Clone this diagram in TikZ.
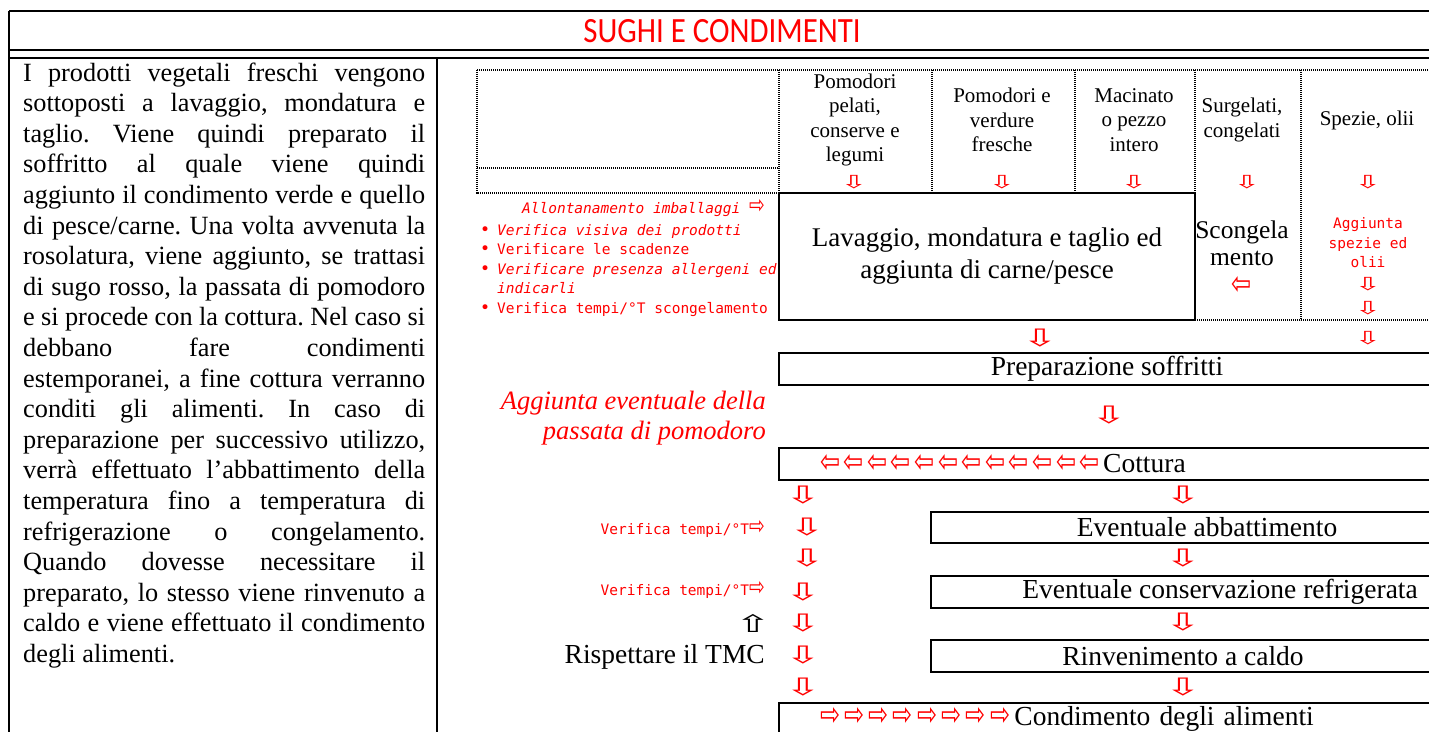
\documentclass[tikz,border=0pt]{standalone}
\usepackage{fontspec}
\setmainfont{Liberation Serif}
\newfontfamily\titolofont[FakeStretch=0.87]{Carlito}
\newfontfamily\notefont{DejaVu Sans Mono}
\newfontfamily\simbolifont{DejaVu Sans}
\newfontfamily\frecciav[FakeStretch=1.8]{DejaVu Sans}
\newfontfamily\frecciao[FakeStretch=0.75]{DejaVu Sans}
\newcommand\frpic[1]{{\frecciao\fontsize{25}{25}\selectfont#1}}
\newcommand\punto{\makebox[17pt][l]{\simbolifont\fontsize{17}{17}\selectfont•}}
\newcommand\fila[3]{\textcolor{red}{\frecciao\fontsize{32}{32}\selectfont\foreach\k in {1,...,#1}{\makebox[#2][l]{#3}}}}
\newcommand\riga[1]{\hbox to 402pt{#1}}

\begin{document}
\begin{tikzpicture}[x=1pt,y=-1pt,
		cornice/.style={line width=2.5pt},
		puntini/.style={line width=2pt,dash pattern=on 1.2pt off 0.8pt},
		casella/.style={draw,line width=2pt,rectangle,inner sep=0pt,minimum height=32pt,font=\fontsize{27.5}{32}\selectfont},
		etichetta/.style={align=center,inner sep=0pt,font=\fontsize{21}{24.4}\selectfont},
		nota/.style={text=red,inner sep=0pt,font=\notefont\fontsize{14.5}{19.5}\selectfont},
		freccia/.style={text=red,inner sep=0pt,font=\frecciav\fontsize{24}{24}\selectfont},
		obliqua/.style={freccia,font=\frecciav\itshape\fontsize{24}{24}\selectfont},
		frecciapic/.style={text=red,inner sep=0pt,font=\frecciav\fontsize{18}{18}\selectfont},
		frecciaorizz/.style={text=red,inner sep=0pt,font=\frecciao\fontsize{32}{32}\selectfont}]
		\useasboundingbox (0,0) rectangle (1429,731);
		% cornice e titolo
		\draw[cornice] (9,11) -- (1440,11) (9,50) -- (1440,50);
		\draw[line width=2pt] (9,58) -- (1440,58);
		\draw[cornice] (9,11) -- (9,740) (437,58) -- (437,740);
		\node[font=\titolofont\fontsize{35.5}{35.5}\selectfont,text=red,inner sep=0pt] (titolo) at (722,31) {SUGHI E CONDIMENTI};
		\node[anchor=base west,inner sep=0pt] (descrizione) at (23,81) {\parbox[t]{402pt}{\fontsize{26.3}{30.6}\selectfont\frenchspacing
				\riga{I prodotti vegetali freschi vengono}
				\riga{sottoposti a lavaggio, mondatura e}
				\riga{taglio. Viene quindi preparato il}
				\riga{soffritto al quale viene quindi}
				\riga{aggiunto il condimento verde e quello}
				\riga{di pesce/carne. Una volta avvenuta la}
				\riga{rosolatura, viene aggiunto, se trattasi}
				\riga{di sugo rosso, la passata di pomodoro}
				\riga{e si procede con la cottura. Nel caso si}
				\riga{debbano fare condimenti}
				\riga{estemporanei, a fine cottura verranno}
				\riga{conditi gli alimenti. In caso di}
				\riga{preparazione per successivo utilizzo,}
				\riga{verrà effettuato l’abbattimento della}
				\riga{temperatura fino a temperatura di}
				\riga{refrigerazione o congelamento.}
				\riga{Quando dovesse necessitare il}
				\riga{preparato, lo stesso viene rinvenuto a}
				\riga{caldo e viene effettuato il condimento}
				\hbox{degli alimenti.}}};
		% tabella delle materie prime
		\draw[puntini] (477,70) -- (1440,70) (477,70) -- (477,193) -- (779,193) (477,168) -- (779,168);
		\draw[puntini] (779,70) -- (779,193) (932,70) -- (932,193) (1075,70) -- (1075,193) (1195,70) -- (1195,193);
		\draw[puntini] (1301,70) -- (1301,320) (1195,320) -- (1440,320);
		\node[etichetta] (pelati) at (855,120) {Pomodori\\pelati,\\conserve e\\legumi};
		\node[etichetta] (fresche) at (1002,120) {Pomodori e\\verdure\\fresche};
		\node[etichetta] (macinato) at (1134,120) {Macinato\\o pezzo\\intero};
		\node[etichetta] (surgelati) at (1242,120) {Surgelati,\\congelati};
		\node[etichetta] (spezie) at (1367,120) {Spezie, olii};
		\node[frecciapic] (g1) at (854,182) {⇩};
		\node[frecciapic] (g2) at (1002,182) {⇩};
		\node[frecciapic] (g3) at (1134,182) {⇩};
		\node[frecciapic] (g4) at (1247,182) {⇩};
		\node[frecciapic] (g5) at (1368,182) {⇩};
		\node[casella,minimum width=416pt,minimum height=127pt,align=center,font=\fontsize{27}{32}\selectfont] (lavaggio) at (987,256.5) {Lavaggio, mondatura e taglio ed\\aggiunta di carne/pesce};
		\node[align=center,inner sep=0pt,font=\fontsize{25.5}{27}\selectfont] (scongela) at (1242,243) {Scongela\\mento};
		\node[frecciaorizz] (s1) at (1242,286) {⇦};
		\node[nota,align=center] (aggspezie) at (1368,243) {Aggiunta\\spezie ed\\olii};
		\node[frecciapic] (s2) at (1368,284) {⇩};
		\node[frecciapic] (s3) at (1368,308) {⇩};
		% controlli
		\node[nota,anchor=east] (imballaggi) at (765,208) {\textit{Allontanamento imballaggi} \frpic{⇨}};
		\node[nota,align=left,anchor=north west] (controlli) at (480,224) {\punto\textit{Verifica visiva dei prodotti}\\
			\punto Verificare le scadenze\\
			\punto\textit{Verificare presenza allergeni ed}\\
			\hspace*{17pt}\textit{indicarli}\\
			\punto Verifica tempi/°T scongelamento};
		% preparazione e cottura
		\node[freccia] (p1) at (1040,338) {⇩};
		\node[frecciapic] (p2) at (1368,338) {⇩};
		\node[casella,minimum width=656pt] (soffritti) at (1107,369) {Preparazione soffritti};
		\node[obliqua] (p3) at (1109,415) {⇩};
		\node[align=right,anchor=east,text=red,inner sep=0pt,font=\itshape\fontsize{26.5}{30}\selectfont] (passata) at (766,418) {Aggiunta eventuale della\\passata di pomodoro};
		\node[casella,minimum width=656pt,text width=574pt,inner xsep=41pt,align=left] (cottura) at (1107,464) {\fila{12}{23.6pt}{⇦}Cottura};
		\node[freccia] (c1) at (803,495) {⇩};
		\node[obliqua] (c2) at (807,527) {⇩};
		\node[obliqua] (c3) at (807,558) {⇩};
		\node[freccia] (c4) at (803,592) {⇩};
		\node[freccia] (c5) at (803,623) {⇩};
		\node[freccia] (c6) at (803,655) {⇩};
		\node[freccia] (c7) at (803,687) {⇩};
		\node[freccia] (d1) at (1183,495) {⇩};
		\node[casella,minimum width=552pt,minimum height=31pt] (abbattimento) at (1207,527.5) {Eventuale abbattimento};
		\node[obliqua] (d2) at (1183,558) {⇩};
		\node[casella,minimum width=578pt] (conservazione) at (1220,592) {Eventuale conservazione refrigerata};
		\node[freccia] (d3) at (1183,622) {⇩};
		\node[casella,minimum width=504pt] (rinvenimento) at (1183,656) {Rinvenimento a caldo};
		\node[freccia] (d4) at (1183,687) {⇩};
		\node[casella,minimum width=656pt,text width=574pt,inner xsep=41pt,align=left] (condimento) at (1107,719) {\fila{8}{24.3pt}{⇨}Condimento degli alimenti};
		\node[nota,anchor=east] (tempi1) at (765,529) {Verifica tempi/°T\frpic{⇨}};
		\node[nota,anchor=east] (tempi2) at (765,590) {Verifica tempi/°T\frpic{⇨}};
		\node[freccia,text=black] (tmcsu) at (753,623) {⇧};
		\node[anchor=east,inner sep=0pt,font=\fontsize{27.5}{32}\selectfont] (tmc) at (765,657) {Rispettare il TMC};
\end{tikzpicture}
\end{document}
